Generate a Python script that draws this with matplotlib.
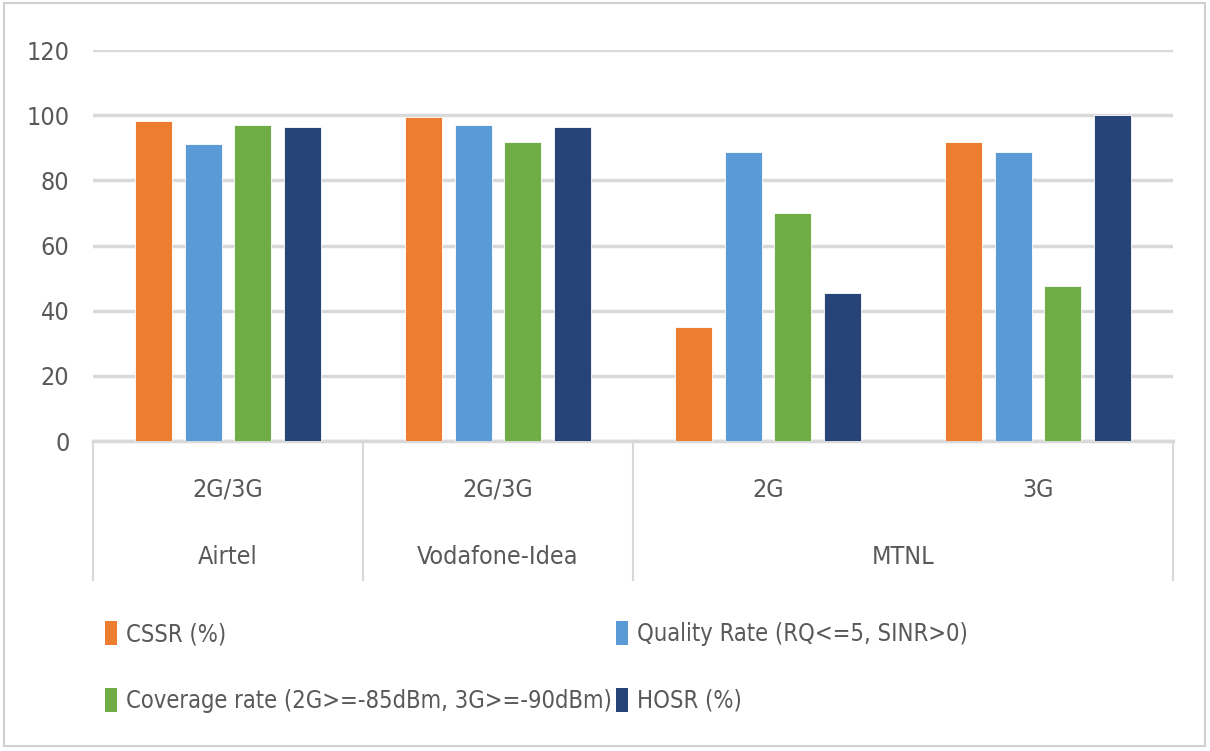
import matplotlib
matplotlib.use("Agg")
import matplotlib.pyplot as plt
from matplotlib.patches import Rectangle, Patch
import matplotlib.transforms as mtransforms

operators = ["Airtel", "Vodafone-Idea", "MTNL"]
technologies = ["2G/3G", "2G/3G", "2G", "3G"]
tech_operator = [0, 1, 2, 2]
series_names = ["CSSR (%)", "Quality Rate (RQ<=5, SINR>0)",
                "Coverage rate (2G>=-85dBm, 3G>=-90dBm)", "HOSR (%)"]
cssr = [98.1, 99.4, 34.9, 91.7]
quality = [91.2, 97.0, 88.8, 88.8]
coverage = [97.0, 91.7, 70.0, 47.6]
hosr = [96.5, 96.5, 45.3, 100.0]
colors = ["#ED7D31", "#5B9BD5", "#70AD47", "#264478"]
yticks = [0, 20, 40, 60, 80, 100, 120]

plt.rcParams['font.family'] = ['DejaVu Sans']
plt.rcParams['font.stretch'] = 'condensed'
txt = "#595959"
grid = "#D9D9D9"
fs = 17

fig = plt.figure(figsize=(12.10, 7.51), dpi=100)
fig.patches.append(Rectangle((0.003, 0.006), 0.993, 0.99, transform=fig.transFigure,
                             fill=False, edgecolor="#D0D0D0", linewidth=1.5))
ax = fig.add_axes([93/1210, 1-441/751, 1080/1210, 391/751])

data = [cssr, quality, coverage, hosr]
n = len(technologies)
bw = 0.137
step = 0.183
for i, (vals, c) in enumerate(zip(data, colors)):
    xs = [k + 0.5 + (i - 1.5) * step for k in range(n)]
    ax.bar(xs, vals, width=bw, color=c, edgecolor="white", linewidth=0.6, zorder=3)

ax.set_xlim(0, n)
ax.set_ylim(0, 120)
ax.set_yticks(yticks)
ax.set_yticklabels([str(v) for v in yticks], fontsize=fs + 1, color=txt)
ax.tick_params(axis='y', length=0, pad=17)
ax.tick_params(axis='x', length=0, labelbottom=False)
for s in ["top", "right", "left"]:
    ax.spines[s].set_visible(False)
ax.spines["bottom"].set_color(grid)
ax.spines["bottom"].set_linewidth(2.5)
ax.grid(axis='y', color=grid, linewidth=2.5, zorder=0)
ax.set_axisbelow(True)

trans = mtransforms.blended_transform_factory(ax.transData, ax.transAxes)
lvl1 = -0.125
lvl2 = -0.297
for k, t in enumerate(technologies):
    ax.text(k + 0.5, lvl1, t, transform=trans, ha='center', va='center', fontsize=fs + 1, color=txt)
for j, op in enumerate(operators):
    ks = [k for k in range(n) if tech_operator[k] == j]
    ax.text((min(ks) + max(ks) + 1) / 2, lvl2, op, transform=trans, ha='center', va='center',
            fontsize=fs + 1, color=txt)
bounds = [0] + [k for k in range(1, n) if tech_operator[k] != tech_operator[k-1]] + [n]
for b in bounds:
    ax.plot([b, b], [0, -0.355], transform=trans, color=grid, linewidth=1.5, clip_on=False)

handles = [Patch(facecolor=c, edgecolor='none') for c in colors]
order = [0, 2, 1, 3]
leg = fig.legend([handles[i] for i in order], [series_names[i] for i in order],
                 ncol=2, loc='upper left', bbox_to_anchor=(84/1210, 1-600/751),
                 frameon=False, fontsize=fs, handlelength=0.5, handleheight=1.2,
                 handletextpad=0.4, columnspacing=0.15, labelspacing=1.75, labelcolor=txt)

fig.savefig("out.png", dpi=100)
